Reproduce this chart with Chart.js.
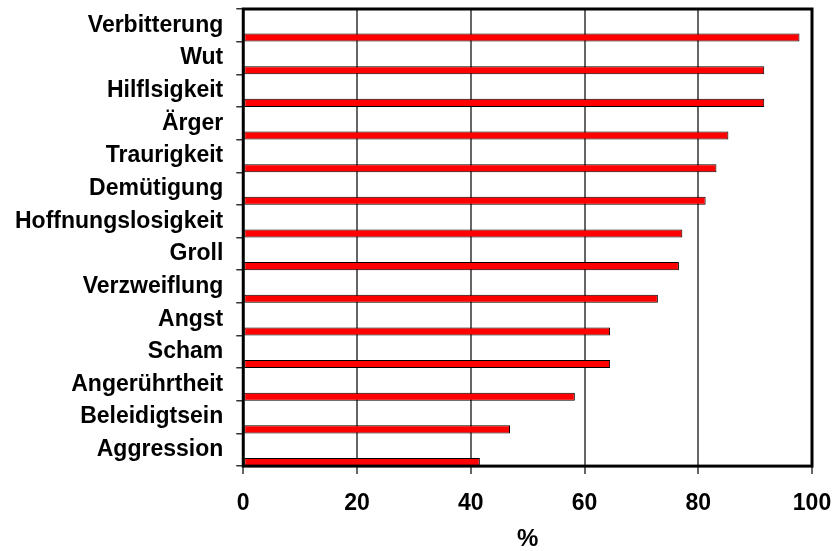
<!DOCTYPE html>
<html>
<head>
<meta charset="utf-8">
<script src="https://cdn.jsdelivr.net/npm/chart.js@4/dist/chart.umd.min.js"></script>
<style>
  html, body { margin: 0; padding: 0; background: #fff; }
  #wrap { width: 834px; height: 551px; }
</style>
</head>
<body>
<div id="wrap"><canvas id="chart" width="834" height="551"></canvas></div>
<script>
  // Kategorien von oben nach unten
  const categories = [
    'Verbitterung', 'Wut', 'Hilflsigkeit', 'Ärger', 'Traurigkeit', 'Demütigung',
    'Hoffnungslosigkeit', 'Groll', 'Verzweiflung', 'Angst', 'Scham',
    'Angerührtheit', 'Beleidigtsein', 'Aggression'
  ];
  // Anteil in %
  const values = [97.8, 91.6, 91.6, 85.3, 83.2, 81.3, 77.2, 76.6, 72.9, 64.5, 64.5, 58.3, 46.9, 41.6];
  // leere Reihe (wie in der Excel-Vorlage), schiebt die Balken an den unteren Rand jeder Zeile
  const spacer = [null, null, null, null, null, null, null, null, null, null, null, null, null, null];
  const xTicks = [0, 20, 40, 60, 80, 100];
  const axisTitle = '%';

  const FONT = 'Liberation Sans, Arial, sans-serif';

  // schwarzer Rahmen um die Zeichenfläche
  const frame = {
    id: 'frame',
    afterDatasetsDraw(chart) {
      const a = chart.chartArea;
      const ctx = chart.ctx;
      ctx.save();
      ctx.strokeStyle = '#000';
      ctx.lineWidth = 3;
      ctx.strokeRect(a.left, a.top, a.right - a.left, a.bottom - a.top);
      ctx.restore();
    }
  };

  // Randabstände der Achsen selbst über layout.padding steuern
  function noEdgePadding(scale) {
    scale.paddingTop = 0;
    scale.paddingBottom = 0;
    scale.paddingLeft = 0;
    scale.paddingRight = 0;
  }

  new Chart(document.getElementById('chart'), {
    type: 'bar',
    data: {
      labels: categories,
      datasets: [
        { label: '', data: spacer },
        {
          label: '%',
          data: values,
          backgroundColor: '#ff0000',
          borderColor: '#000',
          borderWidth: 1,
          borderSkipped: false,
        }
      ]
    },
    options: {
      indexAxis: 'y',
      responsive: false,
      animation: false,
      categoryPercentage: 1.5,
      barPercentage: 0.33,
      layout: { padding: { top: 9, left: 2, right: 22, bottom: -3 } },
      plugins: {
        legend: { display: false },
        tooltip: { enabled: false },
      },
      scales: {
        x: {
          min: 0,
          max: 100,
          afterBuildTicks: (s) => { s.ticks = xTicks.map(v => ({ value: v })); },
          afterFit: noEdgePadding,
          grid: { color: '#666', lineWidth: 2, tickLength: 8, tickColor: '#666' },
          border: { display: false },
          ticks: { color: '#000', padding: 16, font: { family: FONT, size: 23, weight: 'bold' } },
          title: {
            display: true,
            text: axisTitle,
            color: '#000',
            padding: { top: -8.5, bottom: 0 },
            font: { family: FONT, size: 24, weight: 'bold' },
          },
        },
        y: {
          afterFit: noEdgePadding,
          grid: { drawOnChartArea: false, tickLength: 7, tickColor: '#333', lineWidth: 1.5 },
          border: { display: false },
          ticks: { autoSkip: false, color: '#000', padding: 13, font: { family: FONT, size: 23, weight: 'bold' } },
        },
      },
    },
    plugins: [frame],
  });
</script>
</body>
</html>
